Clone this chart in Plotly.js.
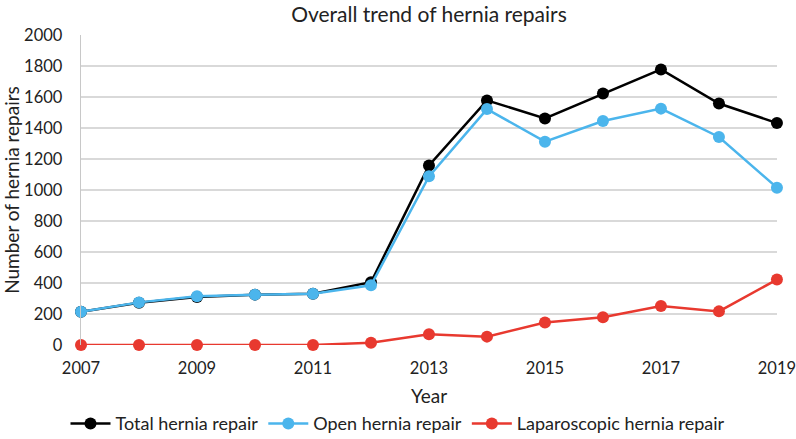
<!DOCTYPE html>
<html>
<head>
<meta charset="utf-8">
<script src="https://cdn.plot.ly/plotly-3.0.1.min.js"></script>
<style>html,body{margin:0;padding:0;background:#fff;}#chart{width:796px;height:439px;}</style>
</head>
<body>
<div id="chart"></div>
<script>
const years = [2007, 2008, 2009, 2010, 2011, 2012, 2013, 2014, 2015, 2016, 2017, 2018, 2019];
const totalRepair = [215, 272, 310, 325, 330, 405, 1158, 1578, 1462, 1622, 1778, 1558, 1432];
const openRepair = [215, 275, 315, 325, 330, 385, 1088, 1522, 1312, 1445, 1525, 1342, 1015];
const lapRepair = [0, 0, 0, 0, 0, 15, 69, 54, 145, 179, 252, 217, 422];
const xTicks = [2007, 2009, 2011, 2013, 2015, 2017, 2019];
const yTicks = [0, 200, 400, 600, 800, 1000, 1200, 1400, 1600, 1800, 2000];

const FONT = 'Lato, "Open Sans", sans-serif';
function series(name, y, color) {
  return {
    x: years, y: y, name: name, type: 'scatter', mode: 'lines+markers',
    line: {color: color, width: 2.5},
    marker: {color: color, size: 12},
    cliponaxis: false
  };
}
const data = [
  series('Total hernia repair', totalRepair, '#000000'),
  series('Open hernia repair', openRepair, '#4bb5ec'),
  series('Laparoscopic hernia repair', lapRepair, '#e8392f')
];
const layout = {
  width: 796, height: 439,
  margin: {l: 81, r: 19, t: 35, b: 94, autoexpand: false},
  paper_bgcolor: '#fff', plot_bgcolor: '#fff',
  font: {family: FONT, color: '#222', size: 17},
  title: {text: 'Overall trend of hernia repairs', font: {size: 21, color: '#222'}, x: 0.5, xanchor: 'center', xref: 'paper', yref: 'container', y: 0.966, yanchor: 'middle'},
  showlegend: true,
  legend: {orientation: 'h', xref: 'container', x: 0.5, xanchor: 'center', yref: 'paper', y: -0.254, yanchor: 'middle', font: {size: 18, color: '#222'}, itemwidth: 40, tracegroupgap: 0},
  xaxis: {
    range: [2007, 2019.001], tickvals: xTicks, ticktext: xTicks.map(String),
    showgrid: false, zeroline: false, showline: false, automargin: true,
    ticks: 'outside', ticklen: 8, tickcolor: 'rgba(0,0,0,0)',
    ticklabeloverflow: 'allow',
    tickfont: {size: 16.5, color: '#222'},
    title: {text: 'Year', font: {size: 19, color: '#222'}, standoff: 12}
  },
  yaxis: {
    range: [0, 2000], tickvals: yTicks, ticktext: yTicks.map(String),
    showgrid: true, gridcolor: '#d9d9d9', gridwidth: 1.3, zeroline: false,
    showline: true, linecolor: '#c8c8c8', linewidth: 1.3,
    ticks: 'outside', ticklen: 14, tickcolor: 'rgba(0,0,0,0)',
    tickfont: {size: 16.5, color: '#222'},
    title: {text: 'Number of hernia repairs', font: {size: 19, color: '#222'}, standoff: 6}
  }
};
Plotly.newPlot('chart', data, layout, {staticPlot: true, displayModeBar: false});
</script>
</body>
</html>
